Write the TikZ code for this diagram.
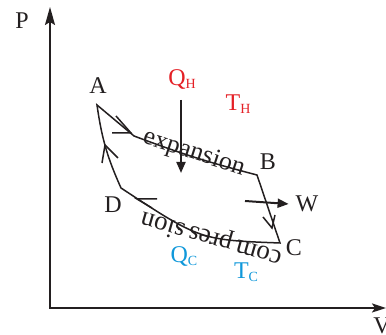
\documentclass[tikz,border=0pt]{standalone}
\usepackage{fontspec}
\setmainfont{Liberation Serif}
\usetikzlibrary{arrows.meta, calc}
\definecolor{hotred}{RGB}{228,32,38}
\definecolor{coldblue}{RGB}{16,152,218}
\definecolor{ink}{RGB}{35,31,32}
\newcommand{\lowidx}[1]{\raisebox{-1.5pt}{\fontsize{7}{8}\selectfont #1}}

\begin{document}
\begin{tikzpicture}[x=0.5pt, y=0.5pt, ink,
    axis/.style={line width=1pt, {Stealth[length=9pt,width=5pt,inset=1.5pt]}-{Stealth[length=7pt,width=4.5pt,inset=1.5pt]}},
    cycle/.style={line width=0.75pt, line join=miter},
    chev/.style={line width=0.75pt},
    flow/.style={line width=1pt, -{Triangle[length=5.5pt,width=4.5pt]}},
    lbl/.style={font=\fontsize{12}{13}\selectfont},
    hot/.style={lbl, text=hotred},
    cold/.style={lbl, text=coldblue},
    along/.style={font=\fontsize{13}{14}\selectfont, anchor=base, inner sep=0pt}]
  \useasboundingbox (0,0) rectangle (386,335);

  \coordinate (o) at (50,27);
  \coordinate (ptop) at (50,328);
  \coordinate (vend) at (386,27);
  \draw[axis] (ptop) -- (o) -- (vend);
  \node[lbl] (p) at (22,314) {P};
  \node[lbl] (v) at (382,9) {V};

  \coordinate (a) at (97,230);
  \coordinate (e) at (134,199);
  \coordinate (b) at (257,160);
  \coordinate (c) at (280,92);
  \coordinate (d) at (121,147);
  \draw[cycle] (a) -- (e) to[bend right=3] (b) -- (c)
    .. controls (200,95) .. (d) to[bend left=8] cycle;

  \draw[chev] (116,219) -- (131,202) -- (112,202);
  \draw[chev] (102,172) -- (105,190) -- (118,177);
  \draw[chev] (263,118) -- (272,107) -- (275,120);
  \draw[chev] (157,136) -- (137,136) -- (152,127);

  \node[lbl] (na) at (98,249) {A};
  \node[lbl] (nb) at (268,173) {B};
  \node[lbl] (nc) at (294,87) {C};
  \node[lbl] (nd) at (113,130) {D};

  \node[along, rotate=-18] (exp) at (192,176) {expansion};
  \node[along, rotate=164, font=\fontsize{13.5}{14}\selectfont] (comp) at (213,103) {com\,pres\,sion};

  \node[hot] (qh) at (182,255) {Q\lowidx{H}};
  \node[hot] (th) at (238,231) {T\lowidx{H}};
  \coordinate (qhtop) at (181,235);
  \coordinate (qhend) at (181,162);
  \draw[flow] (qhtop) -- (qhend);

  \node[lbl] (w) at (307,131) {W};
  \coordinate (wstart) at (245,134);
  \draw[flow] (wstart) -- (w.west);

  \node[cold] (qc) at (184,78) {Q\lowidx{C}};
  \node[cold] (tc) at (246,63) {T\lowidx{C}};
  \fill (179,106) circle (1.5);
\end{tikzpicture}
\end{document}
